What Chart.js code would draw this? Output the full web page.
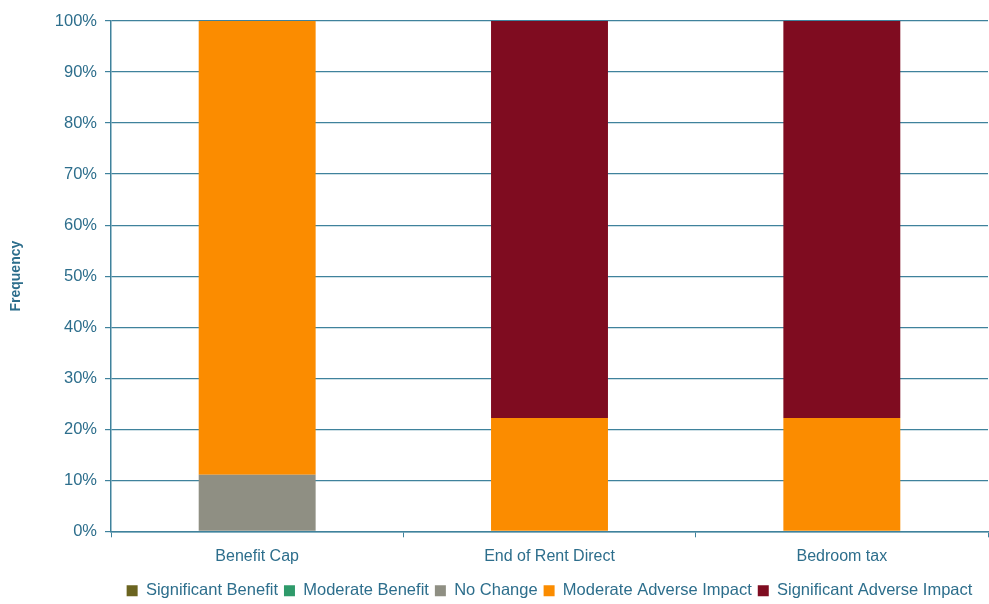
<!DOCTYPE html>
<html>
<head>
<meta charset="utf-8">
<script src="https://cdn.jsdelivr.net/npm/chart.js@4.4.1/dist/chart.umd.min.js"></script>
<style>
  html, body { margin: 0; padding: 0; background: #fff; }
  #wrap { width: 989px; height: 604px; }
</style>
</head>
<body>
<div id="wrap"><canvas id="impactChart"></canvas></div>
<script>
// ===== DATA =====
const categories = ["Benefit Cap", "End of Rent Direct", "Bedroom tax"];
const significantBenefit = [0, 0, 0];
const moderateBenefit = [0, 0, 0];
const noChange = [11.1, 0, 0];
const moderateAdverse = [88.9, 22.2, 22.2];
const significantAdverse = [0, 77.8, 77.8];

const teal = "#2d6e8c";
const gridTeal = "#3f829c";

function series(label, data, color) {
  return {
    label: label,
    data: data,
    backgroundColor: color,
    borderWidth: 0,
    barPercentage: 0.4,
    categoryPercentage: 1.0
  };
}

// legenda centrata sull'area del grafico, non sul canvas
const centerLegend = {
  id: "centerLegend",
  afterLayout(chart) {
    const l = chart.legend;
    if (!l) return;
    const shift = (chart.chartArea.left + chart.chartArea.right) / 2 - (l.left + l.right) / 2;
    l.left += shift;
    l.right += shift;
  }
};

Chart.defaults.font.family = "'Liberation Sans', Arial, sans-serif";
Chart.defaults.color = teal;

new Chart(document.getElementById("impactChart"), {
  type: "bar",
  data: {
    labels: categories,
    datasets: [
      series("Significant Benefit", significantBenefit, "#6b6420"),
      series("Moderate Benefit", moderateBenefit, "#2e9a6a"),
      series("No Change", noChange, "#8f8f83"),
      series("Moderate Adverse Impact", moderateAdverse, "#fb8c00"),
      series("Significant Adverse Impact", significantAdverse, "#7f0c20")
    ]
  },
  plugins: [centerLegend],
  options: {
    responsive: true,
    maintainAspectRatio: false,
    animation: false,
    layout: { padding: { top: 21, right: 1, left: 4, bottom: -5 } },
    plugins: {
      tooltip: { enabled: false },
      legend: {
        position: "bottom",
        labels: {
          boxWidth: 11,
          boxHeight: 11,
          padding: 6,
          font: { size: 16.5 },
          color: teal
        }
      }
    },
    scales: {
      x: {
        stacked: true,
        grid: { drawOnChartArea: false, drawTicks: true, tickLength: 6, color: gridTeal, lineWidth: 1 },
        border: { display: true, color: gridTeal, width: 1.5 },
        ticks: { font: { size: 16 }, color: teal, padding: 10 }
      },
      y: {
        stacked: true,
        min: 0,
        max: 100,
        grid: { color: gridTeal, lineWidth: 1.2, tickLength: 6 },
        border: { display: true, color: gridTeal, width: 1.5 },
        ticks: {
          stepSize: 10,
          font: { size: 16.5 },
          color: teal,
          padding: 8,
          callback: v => v + "%"
        },
        title: {
          display: true,
          text: "Frequency",
          font: { size: 14, weight: "bold" },
          color: teal,
          padding: { bottom: 22 }
        }
      }
    }
  }
});
</script>
</body>
</html>
